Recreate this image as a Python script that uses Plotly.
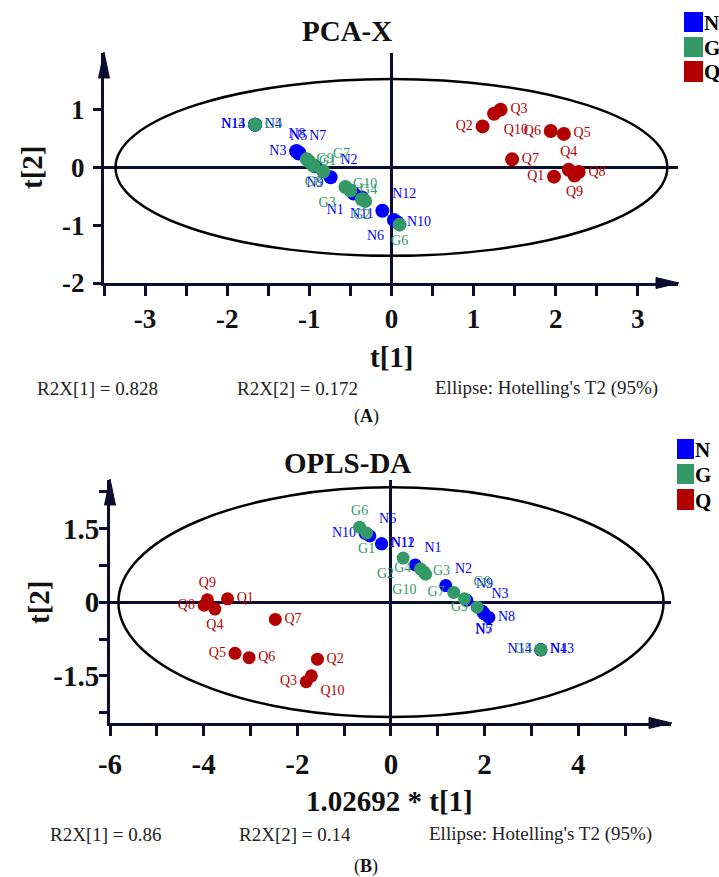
import plotly.graph_objects as go

# ---------------- data ----------------
groups = ["N", "G", "Q"]
colors = {"N": "#0000FF", "G": "#339966", "Q": "#B30000"}

# PCA-X scores (t[1], t[2])
pca_N_names = ["N1", "N2", "N3", "N4", "N5", "N6", "N7", "N8", "N9", "N10", "N11", "N12", "N13", "N14"]
pca_N_t1 = [-0.46, -0.74, -1.16, -1.66, -1.13, 0.03, -1.12, -1.15, -0.93, 0.07, -0.36, -0.11, -1.66, -1.66]
pca_N_t2 = [-0.45, -0.17, 0.28, 0.74, 0.24, -0.91, 0.25, 0.28, 0.02, -0.95, -0.52, -0.75, 0.74, 0.74]
pca_N_pos = ["bottom left", "top right", "middle left", "middle right", "top center", "bottom left",
             "top right", "top center", "bottom center", "middle right", "bottom center", "top right",
             "middle left", "middle left"]

pca_G_names = ["G1", "G2", "G3", "G4", "G5", "G6", "G7", "G8", "G9", "G10"]
pca_G_t1 = [-1.00, -0.36, -0.56, -0.50, -1.66, 0.10, -0.83, -0.95, -1.03, -0.32]
pca_G_t2 = [0.10, -0.55, -0.34, -0.40, 0.74, -0.99, -0.07, 0.03, 0.14, -0.58]
pca_G_pos = ["middle right", "bottom center", "bottom left", "middle right", "middle right",
             "bottom center", "top right", "bottom center", "middle right", "top center"]

pca_Q_names = ["Q1", "Q2", "Q3", "Q4", "Q5", "Q6", "Q7", "Q8", "Q9", "Q10"]
pca_Q_t1 = [1.98, 1.11, 1.33, 2.16, 2.10, 1.94, 1.47, 2.28, 2.23, 1.25]
pca_Q_t2 = [-0.16, 0.71, 1.00, -0.04, 0.58, 0.63, 0.14, -0.08, -0.14, 0.93]
pca_Q_pos = ["middle left", "middle left", "middle right", "top center", "middle right",
             "middle left", "middle right", "middle right", "bottom center", "bottom right"]

# OPLS-DA scores (1.02692 * t[1], t[2])
opls_N_names = pca_N_names
opls_N_t1 = [0.52, 1.17, 1.95, 3.20, 1.98, -0.45, 1.99, 2.09, 1.62, -0.55, -0.20, -0.20, 3.20, 3.20]
opls_N_t2 = [0.76, 0.34, -0.18, -0.97, -0.22, 1.35, -0.24, -0.31, 0.04, 1.40, 1.19, 1.19, -0.97, -0.97]
opls_N_pos = ["top right", "top right", "top right", "middle right", "bottom center", "top right",
              "bottom center", "middle right", "top right", "middle left", "middle right", "middle right",
              "middle right", "middle left"]

opls_G_names = pca_G_names
opls_G_t1 = [-0.52, 0.26, 0.70, 0.63, 3.20, -0.67, 1.34, 1.57, 1.84, 0.74]
opls_G_t2 = [1.41, 0.90, 0.62, 0.68, -0.97, 1.53, 0.20, 0.07, -0.10, 0.57]
opls_G_pos = ["bottom center", "bottom left", "middle right", "middle left", "middle left",
              "top center", "middle left", "top right", "middle left", "bottom left"]

opls_Q_names = pca_Q_names
opls_Q_t1 = [-3.49, -1.57, -1.81, -3.76, -3.33, -3.03, -2.47, -3.99, -3.92, -1.70]
opls_Q_t2 = [0.07, -1.16, -1.62, -0.14, -1.04, -1.13, -0.35, -0.06, 0.05, -1.50]
opls_Q_pos = ["middle right", "middle right", "middle left", "bottom center", "middle left",
              "middle right", "middle right", "middle left", "top center", "bottom right"]

# Hotelling's T2 (95%) ellipse semi-axes
pca_ellipse = (3.36, 1.53)
opls_ellipse = (5.82, 2.34)

pca_xticks = [-3, -2, -1, 0, 1, 2, 3]
pca_xticktext = ["-3", "-2", "-1", "0", "1", "2", "3"]
pca_yticks = [-2, -1, 0, 1]
pca_yticktext = ["-2", "-1", "0", "1"]
opls_xticks = [-6, -4, -2, 0, 2, 4]
opls_xticktext = ["-6", "-4", "-2", "0", "2", "4"]
opls_yticks = [-1.5, 0, 1.5]
opls_yticktext = ["-1.5", "0", "1.5"]

pca_stats = ["R2X[1] = 0.828", "R2X[2] = 0.172", "Ellipse: Hotelling's T2 (95%)"]
opls_stats = ["R2X[1] = 0.86", "R2X[2] = 0.14", "Ellipse: Hotelling's T2 (95%)"]

# ---------------- figure ----------------
W, H = 719, 877
SERIF = "Liberation Serif"
NAVY = "#0c0c30"


def px(x):
    return x / W


def py(y):
    return 1 - y / H


fig = go.Figure()

series = [
    ("x", "y", [("N", pca_N_names, pca_N_t1, pca_N_t2, pca_N_pos),
                ("G", pca_G_names, pca_G_t1, pca_G_t2, pca_G_pos),
                ("Q", pca_Q_names, pca_Q_t1, pca_Q_t2, pca_Q_pos)], 14),
    ("x2", "y2", [("N", opls_N_names, opls_N_t1, opls_N_t2, opls_N_pos),
                  ("G", opls_G_names, opls_G_t1, opls_G_t2, opls_G_pos),
                  ("Q", opls_Q_names, opls_Q_t1, opls_Q_t2, opls_Q_pos)], 13),
]
for xa, ya, sets, msize in series:
    for g, names, xs, ys, pos in sets:
        fig.add_trace(go.Scatter(
            x=xs, y=ys, text=names, mode="markers+text", textposition=pos,
            marker=dict(color=colors[g], size=msize, line=dict(width=0)),
            textfont=dict(family=SERIF, size=14, color=colors[g]),
            xaxis=xa, yaxis=ya, showlegend=False, cliponaxis=False,
        ))

# axis pixel geometry
top_dom = dict(x0=104, x1=678, y0=53, y1=283)
bot_dom = dict(x0=110, x1=671, y0=480, y1=723)


def axis_common(fs, ticklen=10):
    return dict(
        showline=True, linecolor=NAVY, linewidth=3, mirror=False, automargin=False,
        ticks="outside", ticklen=ticklen, tickwidth=3, tickcolor=NAVY,
        showgrid=False, zeroline=True, zerolinecolor=NAVY, zerolinewidth=3,
        tickfont=dict(family=SERIF, size=fs, color="#111111", weight="bold"),
        tickmode="array", fixedrange=True,
    )


fig.update_layout(
    template="none",
    width=W, height=H, margin=dict(l=0, r=0, t=0, b=0, pad=0, autoexpand=False),
    paper_bgcolor="white", plot_bgcolor="white", showlegend=False,
    xaxis=dict(domain=[px(top_dom["x0"]), px(top_dom["x1"])], range=[-3.5, 3.49], anchor="y",
               tickvals=pca_xticks, ticktext=pca_xticktext, ticklabelstandoff=0,
               minor=dict(dtick=0.5, tick0=0, ticks="outside", ticklen=10, tickwidth=3, tickcolor=NAVY),
               **axis_common(27)),
    yaxis=dict(domain=[py(top_dom["y1"]), py(top_dom["y0"])], range=[-2, 1.98], anchor="x",
               tickvals=pca_yticks, ticktext=pca_yticktext, ticklabelstandoff=3,
               **axis_common(27, 8)),
    xaxis2=dict(domain=[px(bot_dom["x0"]), px(bot_dom["x1"])], range=[-6, 5.98], anchor="y2",
                tickvals=opls_xticks, ticktext=opls_xticktext, ticklabelstandoff=3,
                minor=dict(dtick=1, tick0=0, ticks="outside", ticklen=10, tickwidth=3, tickcolor=NAVY),
                **axis_common(29)),
    yaxis2=dict(domain=[py(bot_dom["y1"]), py(bot_dom["y0"])], range=[-2.46, 2.49], anchor="x2",
                tickvals=opls_yticks, ticktext=opls_yticktext, ticklabelstandoff=-6,
                minor=dict(dtick=0.75, tick0=0, ticks="outside", ticklen=8, tickwidth=3, tickcolor=NAVY),
                **axis_common(29, 8)),
)

shapes = []
# ellipses
for (a, b), xr, yr in [(pca_ellipse, "x", "y"), (opls_ellipse, "x2", "y2")]:
    shapes.append(dict(type="circle", xref=xr, yref=yr, x0=-a, x1=a, y0=-b, y1=b,
                       line=dict(color="#000000", width=2.5), layer="between"))

# arrowheads (pixel geometry -> paper)
for d in (top_dom, bot_dom):
    xl, xr_, yt, yb = d["x0"], d["x1"], d["y0"], d["y1"]
    shapes.append(dict(type="path", xref="paper", yref="paper",
                       path=f"M {px(xl-5.5)} {py(yt+25)} L {px(xl)} {py(yt-1)} L {px(xl+5.5)} {py(yt+25)} Z",
                       fillcolor=NAVY, line=dict(color=NAVY, width=1)))
    shapes.append(dict(type="path", xref="paper", yref="paper",
                       path=f"M {px(xr_-22)} {py(yb-5.5)} L {px(xr_+1)} {py(yb)} L {px(xr_-22)} {py(yb+5.5)} Z",
                       fillcolor=NAVY, line=dict(color=NAVY, width=1)))

# legends
legend_boxes = [
    (684, 703, [(12, 32), (37, 57), (61, 82)], 703),
    (677, 694, [(439, 459), (464, 484), (489, 510)], 694),
]
annotations = []
for x0, x1, ys, tx in legend_boxes:
    for g, (y0, y1) in zip(groups, ys):
        shapes.append(dict(type="rect", xref="paper", yref="paper",
                           x0=px(x0), x1=px(x1), y0=py(y1), y1=py(y0),
                           fillcolor=colors[g], line=dict(color=colors[g], width=0)))
        annotations.append(dict(x=px(tx), y=py((y0 + y1) / 2 + 1), xref="paper", yref="paper",
                                text=f"<b>{g}</b>", showarrow=False, xanchor="left", yanchor="middle",
                                borderpad=0, font=dict(family=SERIF, size=21, color="#000000")))


def ann(text, x, y, size, xanchor="center", angle=0, color="#111111"):
    annotations.append(dict(x=px(x), y=py(y), xref="paper", yref="paper", text=text,
                            showarrow=False, xanchor=xanchor, yanchor="middle", textangle=angle,
                            font=dict(family=SERIF, size=size, color=color)))


ann("<b>PCA-X</b>", 347, 31, 29)
ann("<b>t[1]</b>", 391, 357, 29)
ann("<b>t[2]</b>", 32, 168, 29, angle=-90)
ann(pca_stats[0], 35, 388, 19, "left", color="#222222")
ann(pca_stats[1], 235, 388, 19, "left", color="#222222")
ann(pca_stats[2], 433, 388, 19, "left", color="#222222")
ann("(<b>A</b>)", 366, 416, 18)

ann("<b>OPLS-DA</b>", 347, 463, 29)
ann("<b>1.02692 * t[1]</b>", 390, 801, 29)
ann("<b>t[2]</b>", 39, 603, 29, angle=-90)
ann(opls_stats[0], 48, 834, 19, "left", color="#222222")
ann(opls_stats[1], 237, 834, 19, "left", color="#222222")
ann(opls_stats[2], 427, 834, 19, "left", color="#222222")
ann("(<b>B</b>)", 366, 866, 18)

fig.update_layout(shapes=shapes, annotations=annotations)
fig.write_html(
    "out.html",
    config={"displayModeBar": False},
    post_script="document.body.style.margin='0';document.body.style.overflow='hidden';"
                "document.documentElement.style.overflow='hidden';",
)
